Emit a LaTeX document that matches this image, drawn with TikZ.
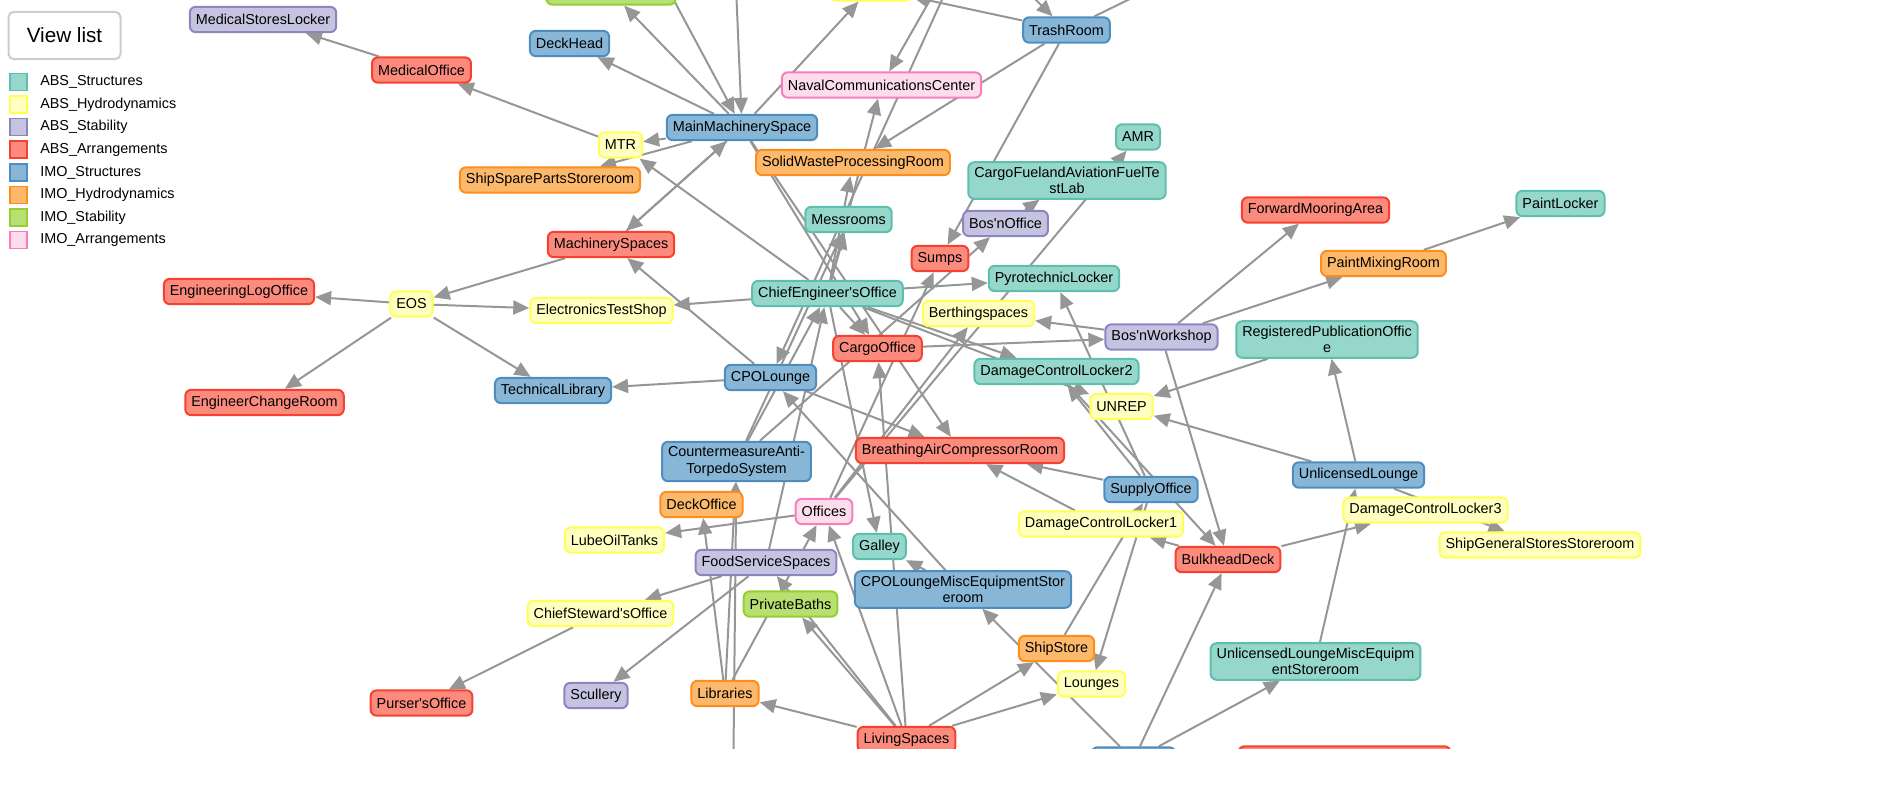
\documentclass[tikz,border=0pt]{standalone}
\usepackage{fontspec}
\setmainfont{Liberation Sans}
\usetikzlibrary{arrows.meta}
\definecolor{absSfill}{HTML}{96D7CB}\definecolor{absSline}{HTML}{5FBFAE}
\definecolor{absHfill}{HTML}{FFFFC0}\definecolor{absHline}{HTML}{FFFF55}
\definecolor{absBfill}{HTML}{C6C3E1}\definecolor{absBline}{HTML}{8C86C0}
\definecolor{absAfill}{HTML}{FC8B7E}\definecolor{absAline}{HTML}{F5412D}
\definecolor{imoSfill}{HTML}{88B6D6}\definecolor{imoSline}{HTML}{4E8DC0}
\definecolor{imoHfill}{HTML}{FDB96B}\definecolor{imoHline}{HTML}{FD8D1C}
\definecolor{imoBfill}{HTML}{B8E070}\definecolor{imoBline}{HTML}{93CF35}
\definecolor{imoAfill}{HTML}{FDDDEC}\definecolor{imoAline}{HTML}{F77DBB}
\definecolor{linkgray}{HTML}{969696}
\pgfdeclarelayer{edges}
\pgfsetlayers{edges,main}
\newcommand{\apos}{\textquotesingle}

\begin{document}
\begin{tikzpicture}[x=0.75pt, y=-0.75pt,
    room/.style={draw, rounded corners=4.5pt, line width=1.5pt, inner xsep=4.5pt, inner ysep=3.5pt,
      minimum height=19pt, align=center, font=\fontsize{10.8}{12.5}\selectfont},
    absS/.style={room, fill=absSfill, draw=absSline},
    absH/.style={room, fill=absHfill, draw=absHline},
    absB/.style={room, fill=absBfill, draw=absBline},
    absA/.style={room, fill=absAfill, draw=absAline},
    imoS/.style={room, fill=imoSfill, draw=imoSline},
    imoH/.style={room, fill=imoHfill, draw=imoHline},
    imoB/.style={room, fill=imoBfill, draw=imoBline},
    imoA/.style={room, fill=imoAfill, draw=imoAline},
    link/.style={draw=linkgray, line width=1.5pt, -{Triangle[length=12pt, width=10.5pt]}},
    key/.style={line width=1.2pt, minimum size=12.5pt, inner sep=0pt},
    keytext/.style={anchor=west, inner sep=0pt, font=\fontsize{10.8}{12}\selectfont}]
  \useasboundingbox (0,0) rectangle (1884,788);
  \begin{scope}
    \clip (0,0) rectangle (1884,748);

    % Button and legend
    \node (viewlist) [draw=black!20, line width=1.5pt, rounded corners=4pt, minimum width=84pt, minimum height=35.5pt,
      font=\fontsize{15.5}{18}\selectfont] at (64.5,35.5) {View list};
    \node (kS) [key, fill=absSfill, draw=absSline] at (18.5,82) {};
    \node (kH) [key, fill=absHfill, draw=absHline] at (18.5,104.5) {};
    \node (kB) [key, fill=absBfill, draw=absBline] at (18.5,127) {};
    \node (kA) [key, fill=absAfill, draw=absAline] at (18.5,149.5) {};
    \node (kIS) [key, fill=imoSfill, draw=imoSline] at (18.5,172.5) {};
    \node (kIH) [key, fill=imoHfill, draw=imoHline] at (18.5,195) {};
    \node (kIB) [key, fill=imoBfill, draw=imoBline] at (18.5,217.5) {};
    \node (kIA) [key, fill=imoAfill, draw=imoAline] at (18.5,240) {};
    \node (tS) [keytext] at (40,82) {ABS\_Structures};
    \node (tH) [keytext] at (40,104.5) {ABS\_Hydrodynamics};
    \node (tB) [keytext] at (40,127) {ABS\_Stability};
    \node (tA) [keytext] at (40,149.5) {ABS\_Arrangements};
    \node (tIS) [keytext] at (40,172.5) {IMO\_Structures};
    \node (tIH) [keytext] at (40,195) {IMO\_Hydrodynamics};
    \node (tIB) [keytext] at (40,217.5) {IMO\_Stability};
    \node (tIA) [keytext] at (40,240) {IMO\_Arrangements};

    % Nodes
    \node (greentop) [imoB, minimum width=97pt] at (611,-8) {};
    \node (yellowtop) [absH, minimum width=61pt] at (871,-12) {};
    \node (bluebot) [imoS, minimum width=63pt] at (1133.5,760) {};
    \node (redbot) [absA, minimum width=159pt] at (1344.5,759) {};
    \node (msl) [absB] at (263,19.5) {MedicalStoresLocker};
    \node (medoff) [absA] at (421.5,70) {MedicalOffice};
    \node (deckhead) [imoS] at (569.5,43.5) {DeckHead};
    \node (mtr) [absH] at (620.5,145) {MTR};
    \node (mms) [imoS] at (742,127.5) {MainMachinerySpace};
    \node (spares) [imoH] at (550,180) {ShipSparePartsStoreroom};
    \node (machsp) [absA] at (611,244.5) {MachinerySpaces};
    \node (ncc) [imoA] at (881.5,85) {NavalCommunicationsCenter};
    \node (swpr) [imoH] at (853,162.5) {SolidWasteProcessingRoom};
    \node (mess) [absS] at (848.5,219.5) {Messrooms};
    \node (trash) [imoS] at (1066.5,30) {TrashRoom};
    \node (amr) [absS] at (1138,137) {AMR};
    \node (fuellab) [absS] at (1067,180.5) {CargoFuelandAviationFuelTe\\stLab};
    \node (bosoff) [absB] at (1005.5,223.5) {Bos\apos nOffice};
    \node (sumps) [absA] at (940,258.5) {Sumps};
    \node (fwdmoor) [absA] at (1315.5,210) {ForwardMooringArea};
    \node (paintlk) [absS] at (1560.5,203.5) {PaintLocker};
    \node (paintmix) [imoH] at (1383.5,263.5) {PaintMixingRoom};
    \node (englog) [absA] at (239,291.5) {EngineeringLogOffice};
    \node (eos) [absH] at (411.5,304) {EOS};
    \node (engchg) [absA] at (264.5,402.5) {EngineerChangeRoom};
    \node (etshop) [absH] at (601.5,310.5) {ElectronicsTestShop};
    \node (chiefeng) [absS] at (827.5,293.5) {ChiefEngineer\apos sOffice};
    \node (techlib) [imoS] at (553,390.5) {TechnicalLibrary};
    \node (cpol) [imoS] at (770.5,377.5) {CPOLounge};
    \node (cats) [imoS] at (736.5,461.5) {CountermeasureAnti-\\TorpedoSystem};
    \node (deckoff) [imoH] at (701.5,504.5) {DeckOffice};
    \node (offices) [imoA] at (824,511.5) {Offices};
    \node (pyro) [absS] at (1054,278.5) {PyrotechnicLocker};
    \node (berth) [absH] at (978.5,313.5) {Berthingspaces};
    \node (cargo) [absA] at (877.5,348.5) {CargoOffice};
    \node (boswks) [absB] at (1161.5,337) {Bos\apos nWorkshop};
    \node (dcl2) [absS] at (1056.5,371.5) {DamageControlLocker2};
    \node (unrep) [absH] at (1121.5,406.5) {UNREP};
    \node (breath) [absA] at (960,450.5) {BreathingAirCompressorRoom};
    \node (supply) [imoS] at (1151,489.5) {SupplyOffice};
    \node (regpub) [absS] at (1327,339.5) {RegisteredPublicationOffic\\e};
    \node (ulounge) [imoS] at (1358.5,475) {UnlicensedLounge};
    \node (dcl3) [absH] at (1425.5,510) {DamageControlLocker3};
    \node (lube) [absH] at (614.5,540) {LubeOilTanks};
    \node (food) [absB] at (766,562.5) {FoodServiceSpaces};
    \node (baths) [imoB] at (790.5,604) {PrivateBaths};
    \node (steward) [absH] at (600.5,613.5) {ChiefSteward\apos sOffice};
    \node (scullery) [absB] at (596,695.5) {Scullery};
    \node (libs) [imoH] at (725,693.5) {Libraries};
    \node (purser) [absA] at (421.5,703) {Purser\apos sOffice};
    \node (galley) [absS] at (879.5,546.5) {Galley};
    \node (cpolmisc) [imoS] at (963,589.5) {CPOLoungeMiscEquipmentStor\\eroom};
    \node (dcl1) [absH] at (1101,524) {DamageControlLocker1};
    \node (bulkhead) [absA] at (1228,559.5) {BulkheadDeck};
    \node (shipstore) [imoH] at (1056.5,648.5) {ShipStore};
    \node (lounges) [absH] at (1091.5,684) {Lounges};
    \node (living) [absA] at (906.5,739.5) {LivingSpaces};
    \node (ulmisc) [absS] at (1315.5,661.5) {UnlicensedLoungeMiscEquipm\\entStoreroom};
    \node (genstores) [absH] at (1540,545) {ShipGeneralStoresStoreroom};
  \end{scope}

  % Free ends above and below the view
  \coordinate (offA) at (985,-50);
  \coordinate (offB) at (1230,-50);
  \coordinate (offC) at (950,-35);
  \coordinate (offD) at (734,-60);
  \coordinate (offE) at (647,-50);
  \coordinate (offF) at (960,-40);
  \coordinate (offG) at (1010,775);
  \coordinate (offH) at (733,800);

  % Edges
  \begin{pgfonlayer}{edges}
  \clip (0,0) rectangle (1884,748);
  \draw[link] (medoff) -- (msl);
  \draw[link] (mtr) -- (medoff);
  \draw[link] (mms) -- (deckhead);
  \draw[link] (mms) -- (greentop);
  \draw[link] (mms) -- (mtr);
  \draw[link] (mms) -- (spares);
  \draw[link] (chiefeng) -- (mtr);
  \draw[link] (mms) -- (yellowtop);
  \draw[link] (trash) -- (yellowtop);
  \draw[link] (offA) -- (trash);
  \draw[link] (trash) -- (offB);
  \draw[link] (trash) -- (swpr);
  \draw[link] (trash) -- (sumps);
  \draw[link] (offC) -- (ncc);
  \draw[link] (offD) -- (mms);
  \draw[link] (offE) -- (mms);
  \draw[link] (offF) -- (cpol);
  \draw[link] (machsp) -- (mms);
  \draw[link] (mms) -- (machsp);
  \draw[link] (machsp) -- (eos);
  \draw[link] (cpol) -- (machsp);
  \draw[link] (eos) -- (englog);
  \draw[link] (eos) -- (engchg);
  \draw[link] (eos) -- (etshop);
  \draw[link] (eos) -- (techlib);
  \draw[link] (chiefeng) -- (etshop);
  \draw[link] (cpol) -- (techlib);
  \draw[link] (mms) -- (cargo);
  \draw[link] (mms) -- (breath);
  \draw[link] (chiefeng) -- (mess);
  \draw[link] (chiefeng) -- (swpr);
  \draw[link] (chiefeng) -- (ncc);
  \draw[link] (chiefeng) -- (pyro);
  \draw[link] (chiefeng) -- (cargo);
  \draw[link] (chiefeng) -- (dcl2);
  \draw[link] (chiefeng) -- (unrep);
  \draw[link] (chiefeng) -- (galley);
  \draw[link] (cats) -- (mess);
  \draw[link] (cats) -- (chiefeng);
  \draw[link] (food) -- (chiefeng);
  \draw[link] (cats) -- (bosoff);
  \draw[link] (offices) -- (sumps);
  \draw[link] (offices) -- (berth);
  \draw[link] (offices) -- (amr);
  \draw[link] (bosoff) -- (fuellab);
  \draw[link] (boswks) -- (berth);
  \draw[link] (boswks) -- (fwdmoor);
  \draw[link] (boswks) -- (paintmix);
  \draw[link] (boswks) -- (bulkhead);
  \draw[link] (paintmix) -- (paintlk);
  \draw[link] (cargo) -- (boswks);
  \draw[link] (regpub) -- (unrep);
  \draw[link] (ulounge) -- (unrep);
  \draw[link] (ulounge) -- (regpub);
  \draw[link] (ulmisc) -- (ulounge);
  \draw[link] (ulounge) -- (genstores);
  \draw[link] (bulkhead) -- (dcl3);
  \draw[link] (bluebot) -- (ulmisc);
  \draw[link] (bluebot) -- (bulkhead);
  \draw[link] (bluebot) -- (cpolmisc);
  \draw[link] (living) -- (shipstore);
  \draw[link] (living) -- (lounges);
  \draw[link] (living) -- (offG);
  \draw[link] (living) -- (libs);
  \draw[link] (living) -- (baths);
  \draw[link] (living) -- (food);
  \draw[link] (living) -- (offices);
  \draw[link] (living) -- (cargo);
  \draw[link] (shipstore) -- (supply);
  \draw[link] (supply) -- (lounges);
  \draw[link] (bulkhead) -- (dcl1);
  \draw[link] (supply) -- (breath);
  \draw[link] (dcl1) -- (breath);
  \draw[link] (supply) -- (dcl2);
  \draw[link] (dcl2) -- (bulkhead);
  \draw[link] (supply) -- (pyro);
  \draw[link] (cpol) -- (breath);
  \draw[link] (cpolmisc) -- (galley);
  \draw[link] (cpolmisc) -- (cpol);
  \draw[link] (offices) -- (lube);
  \draw[link] (food) -- (steward);
  \draw[link] (steward) -- (purser);
  \draw[link] (food) -- (scullery);
  \draw[link] (libs) -- (deckoff);
  \draw[link] (libs) -- (cats);
  \draw[link] (libs) -- (offices);
  \draw[link] (offH) -- (cats);
  \end{pgfonlayer}
\end{tikzpicture}
\end{document}
